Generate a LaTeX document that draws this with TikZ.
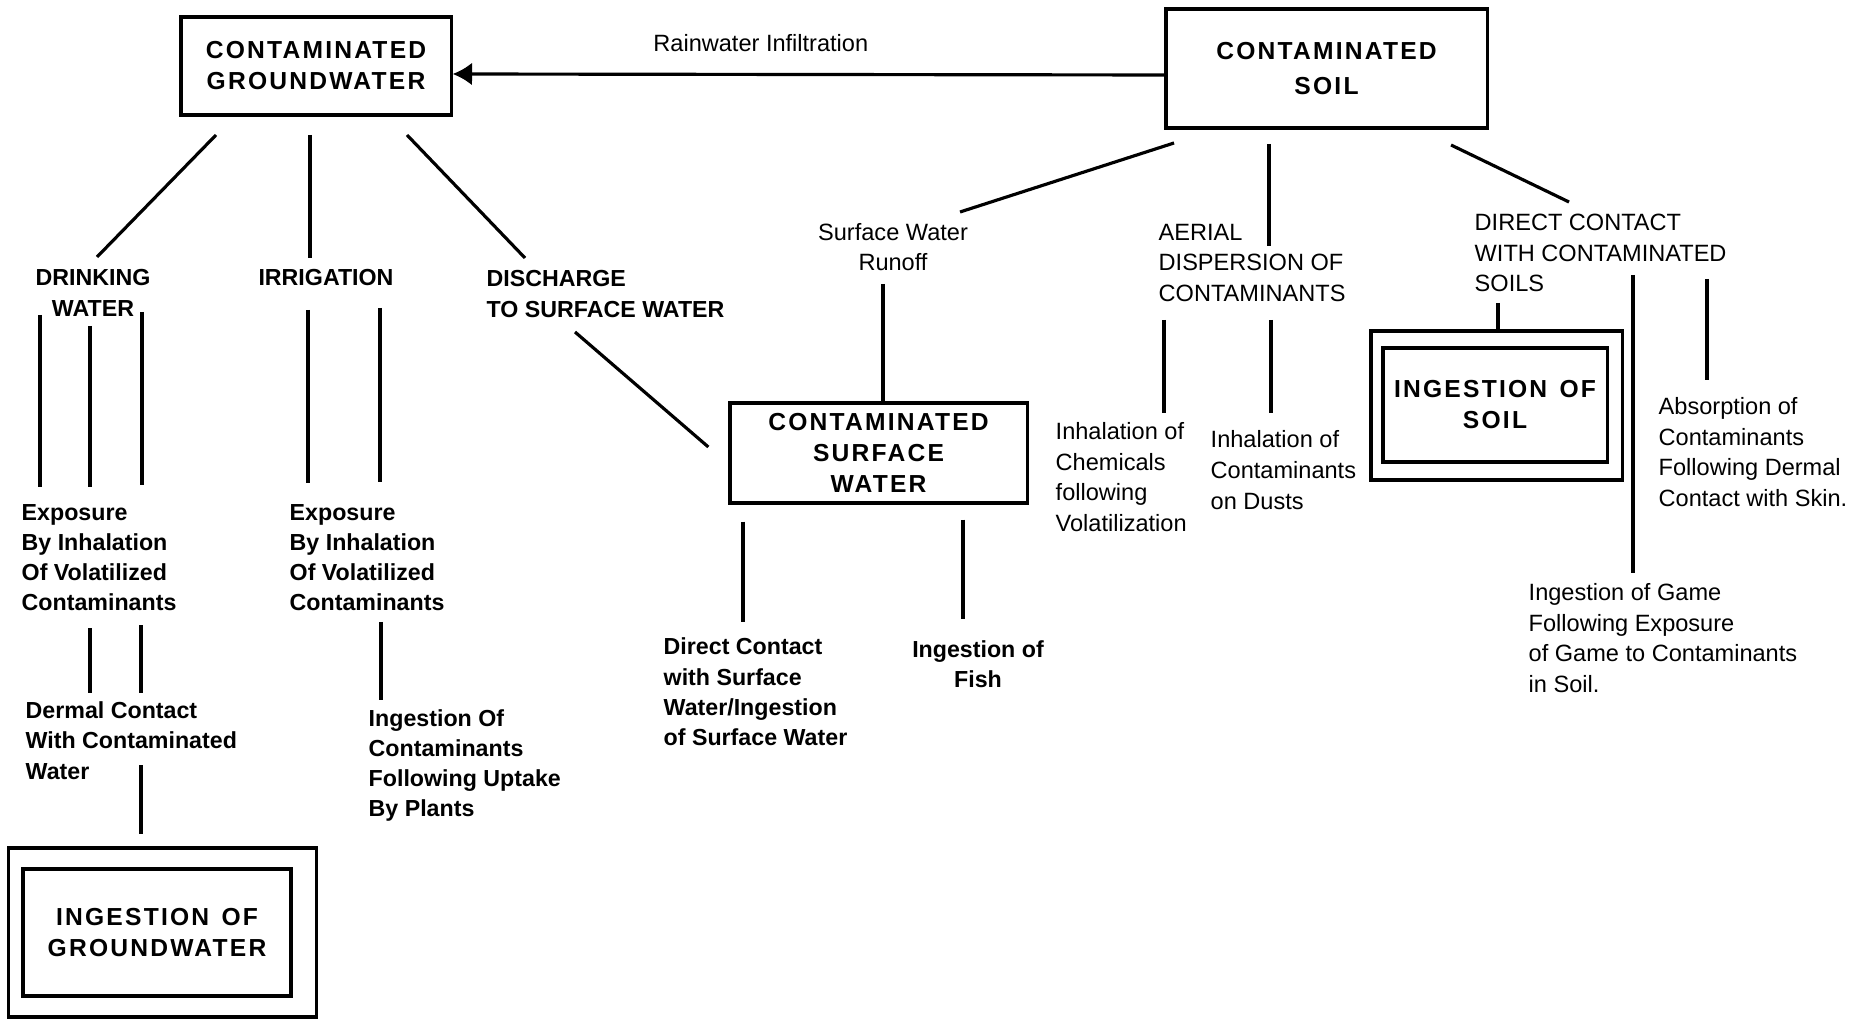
\documentclass[tikz,border=0pt]{standalone}
\usepackage{fontspec}
\setmainfont{Liberation Sans}
\newfontfamily\boxfont[LetterSpace=9]{Liberation Sans}
\usetikzlibrary{arrows.meta,calc}

\tikzset{
  box/.style={draw,line width=0.9pt,inner sep=0pt,align=center,
    font=\boxfont\bfseries\fontsize{7}{8.8}\selectfont},
  outerbox/.style={draw,line width=0.9pt,inner sep=0pt},
  lbl/.style={inner sep=0pt,font=\bfseries\fontsize{6.6}{8.6}\selectfont},
  lblr/.style={inner sep=0pt,font=\fontsize{6.7}{8.7}\selectfont},
  link/.style={line width=0.9pt},
}

\begin{document}
\begin{tikzpicture}[x=0.01cm,y=-0.01cm,>={Latex[length=5.5pt,width=6.5pt]}]
  \useasboundingbox (0,0) rectangle (1858,1019);

  % sources
  \node[box,minimum width=2.7cm,minimum height=0.98cm] (gw) at (316,66)
    {CONTAMINATED\\GROUNDWATER};
  \node[box,minimum width=3.21cm,minimum height=1.19cm,
    font=\boxfont\bfseries\fontsize{7}{10.2}\selectfont] (soil) at (1326.5,68.5)
    {CONTAMINATED\\SOIL};
  \draw[link,->] ($(soil.west)+(0,6.5)$) -- ($(gw.east)+(0,8)$)
    node[lblr,pos=0.567,above=6pt] (rain) {Rainwater Infiltration};

  % groundwater side
  \node[lbl,align=center] (drink) at (93,293) {DRINKING\\WATER};
  \node[lbl] (irrig) at (326,278) {IRRIGATION};
  \node[lbl,align=left,anchor=west] (disch) at (486,294)
    {DISCHARGE\\TO SURFACE WATER};
  \node[lbl,align=left,anchor=west] (expdw) at (21,557.5)
    {Exposure\\By Inhalation\\Of Volatilized\\Contaminants};
  \node[lbl,align=left,anchor=west] (expir) at (289,557.5)
    {Exposure\\By Inhalation\\Of Volatilized\\Contaminants};
  \node[lbl,align=left,anchor=west] (dermal) at (25,740.5)
    {Dermal Contact\\With Contaminated\\Water};
  \node[lbl,align=left,anchor=west] (ingplant) at (368,765.5)
    {Ingestion Of\\Contaminants\\Following Uptake\\By Plants};
  \node[outerbox,minimum width=3.07cm,minimum height=1.69cm] (inggwfrm)
    at (162.5,932.5) {};
  \node[box,minimum width=2.68cm,minimum height=1.27cm] (inggw) at (157,932.5)
    {INGESTION\enspace OF\\GROUNDWATER};

  \draw[link] ($(gw)+(-100,69)$) -- ($(drink)+(4,-36)$);
  \draw[link] ($(gw)+(-6,69)$) -- ($(irrig)+(-16,-20)$);
  \draw[link] ($(gw)+(91,69)$) -- ($(disch.west)+(39,-36)$);
  \draw[link] ($(drink)+(-53,22)$) -- ($(expdw.west)+(19,-70.5)$);
  \draw[link] ($(drink)+(-3,33)$) -- ($(expdw.west)+(69,-70.5)$);
  \draw[link] ($(drink)+(49,19)$) -- ($(expdw.west)+(121,-72.5)$);
  \draw[link] ($(expdw.west)+(69,70.5)$) -- ($(dermal.west)+(65,-47.5)$);
  \draw[link] ($(expdw.west)+(120,67.5)$) -- ($(dermal.west)+(116,-47.5)$);
  \draw[link] ($(dermal.west)+(116,24.5)$) -- ($(inggwfrm)+(-21.5,-98.5)$);
  \draw[link] ($(irrig)+(-18,32)$) -- ($(expir.west)+(19,-74.5)$);
  \draw[link] ($(irrig)+(54,30)$) -- ($(expir.west)+(91,-75.5)$);
  \draw[link] ($(expir.west)+(92,64.5)$) -- ($(ingplant.west)+(13,-65.5)$);

  % surface water
  \node[box,minimum width=2.97cm,minimum height=1.0cm] (sw) at (878.5,453)
    {CONTAMINATED\\SURFACE\\WATER};
  \node[lblr,align=center] (runoff) at (893,247) {Surface Water\\Runoff};
  \node[lbl,align=left,anchor=west] (dircon) at (663,692)
    {Direct Contact\\with Surface\\Water/Ingestion\\of Surface Water};
  \node[lbl,align=center] (fish) at (978,664) {Ingestion of\\Fish};

  \draw[link] ($(disch.west)+(89,38)$) -- ($(sw.west)+(-20,-6)$);
  \draw[link] ($(runoff)+(-10,37)$) -- ($(sw.north)+(4.5,0)$);
  \draw[link] ($(sw.south)+(-135.5,17)$) -- ($(dircon.west)+(80,-70)$);
  \draw[link] ($(sw.south)+(84.5,15)$) -- ($(fish)+(-15,-45)$);

  % soil side
  \node[lblr,align=left,anchor=west] (aerial) at (1158,263)
    {AERIAL\\DISPERSION OF\\CONTAMINANTS};
  \node[lblr,align=left,anchor=west] (dirsoil) at (1474,253)
    {DIRECT CONTACT\\WITH CONTAMINATED\\SOILS};
  \node[lblr,align=left,anchor=west] (inhchem) at (1055,477)
    {Inhalation of\\Chemicals\\following\\Volatilization};
  \node[lblr,align=left,anchor=west] (inhdust) at (1210,470)
    {Inhalation of\\Contaminants\\on Dusts};
  \node[outerbox,minimum width=2.51cm,minimum height=1.49cm] (ingsoilfrm)
    at (1496.5,405.5) {};
  \node[box,minimum width=2.24cm,minimum height=1.14cm] (ingsoil) at (1495,405)
    {INGESTION\enspace OF\\SOIL};
  \node[lblr,align=left,anchor=west] (absorb) at (1658,452)
    {Absorption of\\Contaminants\\Following Dermal\\Contact with Skin.};
  \node[lblr,align=left,anchor=west] (game) at (1528,638)
    {Ingestion of Game\\Following Exposure\\of Game to Contaminants\\in Soil.};

  \draw[link] ($(soil)+(-152.5,74.5)$) -- ($(runoff)+(67,-35)$);
  \draw[link] ($(soil)+(-57.5,75.5)$) -- ($(aerial.west)+(111,-17)$);
  \draw[link] ($(soil)+(124.5,76.5)$) -- ($(dirsoil.west)+(95,-51)$);
  \draw[link] ($(aerial.west)+(6,57)$) -- ($(inhchem.west)+(109,-64)$);
  \draw[link] ($(aerial.west)+(113,57)$) -- ($(inhdust.west)+(61,-57)$);
  \draw[link] ($(dirsoil.west)+(24,50)$) -- ($(ingsoilfrm.north)+(1.5,0)$);
  \draw[link] ($(dirsoil.west)+(159,22)$) -- ($(game.west)+(105,-65)$);
  \draw[link] ($(dirsoil.west)+(233,26)$) -- ($(absorb.west)+(49,-72)$);
\end{tikzpicture}
\end{document}
